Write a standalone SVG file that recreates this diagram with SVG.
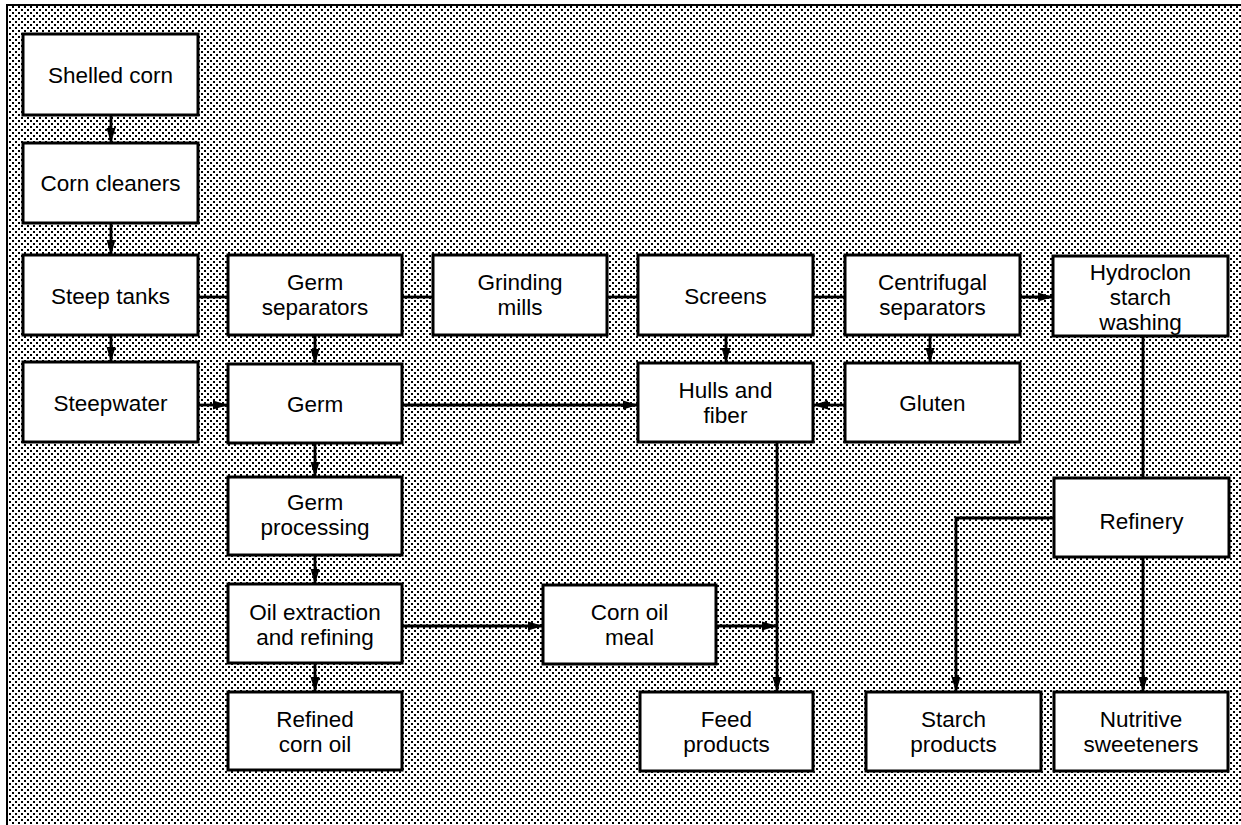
<svg xmlns="http://www.w3.org/2000/svg" width="1241" height="825" viewBox="0 0 1241 825">
<style>
.box{fill:#fff;stroke:#000;stroke-width:3}
.lbl{font-family:"Liberation Sans",Arial,Helvetica,sans-serif;font-size:22.5px;text-anchor:middle;fill:#000}
.c{fill:none;stroke:#000;stroke-width:2.8}
.a{marker-end:url(#ah)}
</style>
<defs>
<pattern id="dots" width="6" height="6" patternUnits="userSpaceOnUse">
<rect width="6" height="6" fill="#fff"/>
<rect x="0" y="0" width="2" height="2" fill="#000"/>
<rect x="3" y="3" width="2" height="2" fill="#000"/>
</pattern>
<marker id="ah" markerUnits="userSpaceOnUse" markerWidth="15" markerHeight="10" refX="15" refY="5" orient="auto">
<path d="M0,0.5 L15,5 L0,9.5 z" fill="#000"/>
</marker>
</defs>
<rect width="1241" height="825" fill="#fff"/>
<rect x="8" y="6" width="1233" height="819" fill="url(#dots)"/>
<path d="M7 825 V5 H1241" fill="none" stroke="#000" stroke-width="2"/>
<g id="connectors">
<path class="c a" d="M111 115 V143"/>
<path class="c a" d="M111 223 V255"/>
<path class="c a" d="M111 335 V362"/>
<path class="c" d="M198 297 H228"/>
<path class="c" d="M402 297 H433"/>
<path class="c" d="M607 297 H638"/>
<path class="c" d="M813 297 H845"/>
<path class="c a" d="M1020 297 H1053"/>
<path class="c a" d="M315 335 V364"/>
<path class="c a" d="M198 405 H228"/>
<path class="c a" d="M402 405 H638"/>
<path class="c a" d="M726 335 V363"/>
<path class="c a" d="M930 335 V363"/>
<path class="c a" d="M845 405 H813"/>
<path class="c a" d="M315 443 V477"/>
<path class="c a" d="M315 555 V584"/>
<path class="c a" d="M315 663 V692"/>
<path class="c a" d="M402 626 H543"/>
<path class="c a" d="M777 442 V692"/>
<path class="c a" d="M716 626 H777"/>
<path class="c" d="M1143 336 V478"/>
<path class="c a" d="M1054 518 H956 V692"/>
<path class="c a" d="M1143 557 V692"/>
</g>
<g id="shelled-corn"><rect class="box" x="23" y="34" width="175" height="81"/><text class="lbl" x="110.5" y="83">Shelled corn</text></g>
<g id="corn-cleaners"><rect class="box" x="23" y="143" width="175" height="80"/><text class="lbl" x="110.5" y="191">Corn cleaners</text></g>
<g id="steep-tanks"><rect class="box" x="23" y="255" width="175" height="80"/><text class="lbl" x="110.5" y="304">Steep tanks</text></g>
<g id="germ-separators"><rect class="box" x="228" y="255" width="174" height="80"/><text class="lbl" x="315" y="290">Germ<tspan x="315" y="315">separators</tspan></text></g>
<g id="grinding-mills"><rect class="box" x="433" y="255" width="174" height="80"/><text class="lbl" x="520" y="290">Grinding<tspan x="520" y="315">mills</tspan></text></g>
<g id="screens"><rect class="box" x="638" y="255" width="175" height="80"/><text class="lbl" x="725.5" y="304">Screens</text></g>
<g id="centrifugal-separators"><rect class="box" x="845" y="255" width="175" height="80"/><text class="lbl" x="932.5" y="290">Centrifugal<tspan x="932.5" y="315">separators</tspan></text></g>
<g id="hydroclon"><rect class="box" x="1053" y="256" width="175" height="80"/><text class="lbl" x="1140.5" y="280">Hydroclon<tspan x="1140.5" y="305">starch</tspan><tspan x="1140.5" y="330">washing</tspan></text></g>
<g id="steepwater"><rect class="box" x="23" y="362" width="175" height="80"/><text class="lbl" x="110.5" y="411">Steepwater</text></g>
<g id="germ"><rect class="box" x="228" y="364" width="174" height="79"/><text class="lbl" x="315" y="412">Germ</text></g>
<g id="hulls-fiber"><rect class="box" x="638" y="363" width="175" height="79"/><text class="lbl" x="725.5" y="398">Hulls and<tspan x="725.5" y="423">fiber</tspan></text></g>
<g id="gluten"><rect class="box" x="845" y="363" width="175" height="79"/><text class="lbl" x="932.5" y="411">Gluten</text></g>
<g id="germ-processing"><rect class="box" x="228" y="477" width="174" height="78"/><text class="lbl" x="315" y="510">Germ<tspan x="315" y="535">processing</tspan></text></g>
<g id="refinery"><rect class="box" x="1054" y="478" width="175" height="79"/><text class="lbl" x="1141.5" y="529">Refinery</text></g>
<g id="oil-extraction"><rect class="box" x="228" y="584" width="174" height="79"/><text class="lbl" x="315" y="620">Oil extraction<tspan x="315" y="645">and refining</tspan></text></g>
<g id="corn-oil-meal"><rect class="box" x="543" y="585" width="173" height="79"/><text class="lbl" x="629.5" y="620">Corn oil<tspan x="629.5" y="645">meal</tspan></text></g>
<g id="refined-corn-oil"><rect class="box" x="228" y="692" width="174" height="78"/><text class="lbl" x="315" y="727">Refined<tspan x="315" y="752">corn oil</tspan></text></g>
<g id="feed-products"><rect class="box" x="640" y="692" width="173" height="79"/><text class="lbl" x="726.5" y="727">Feed<tspan x="726.5" y="752">products</tspan></text></g>
<g id="starch-products"><rect class="box" x="866" y="692" width="175" height="79"/><text class="lbl" x="953.5" y="727">Starch<tspan x="953.5" y="752">products</tspan></text></g>
<g id="nutritive-sweeteners"><rect class="box" x="1054" y="692" width="174" height="79"/><text class="lbl" x="1141" y="727">Nutritive<tspan x="1141" y="752">sweeteners</tspan></text></g>
</svg>
